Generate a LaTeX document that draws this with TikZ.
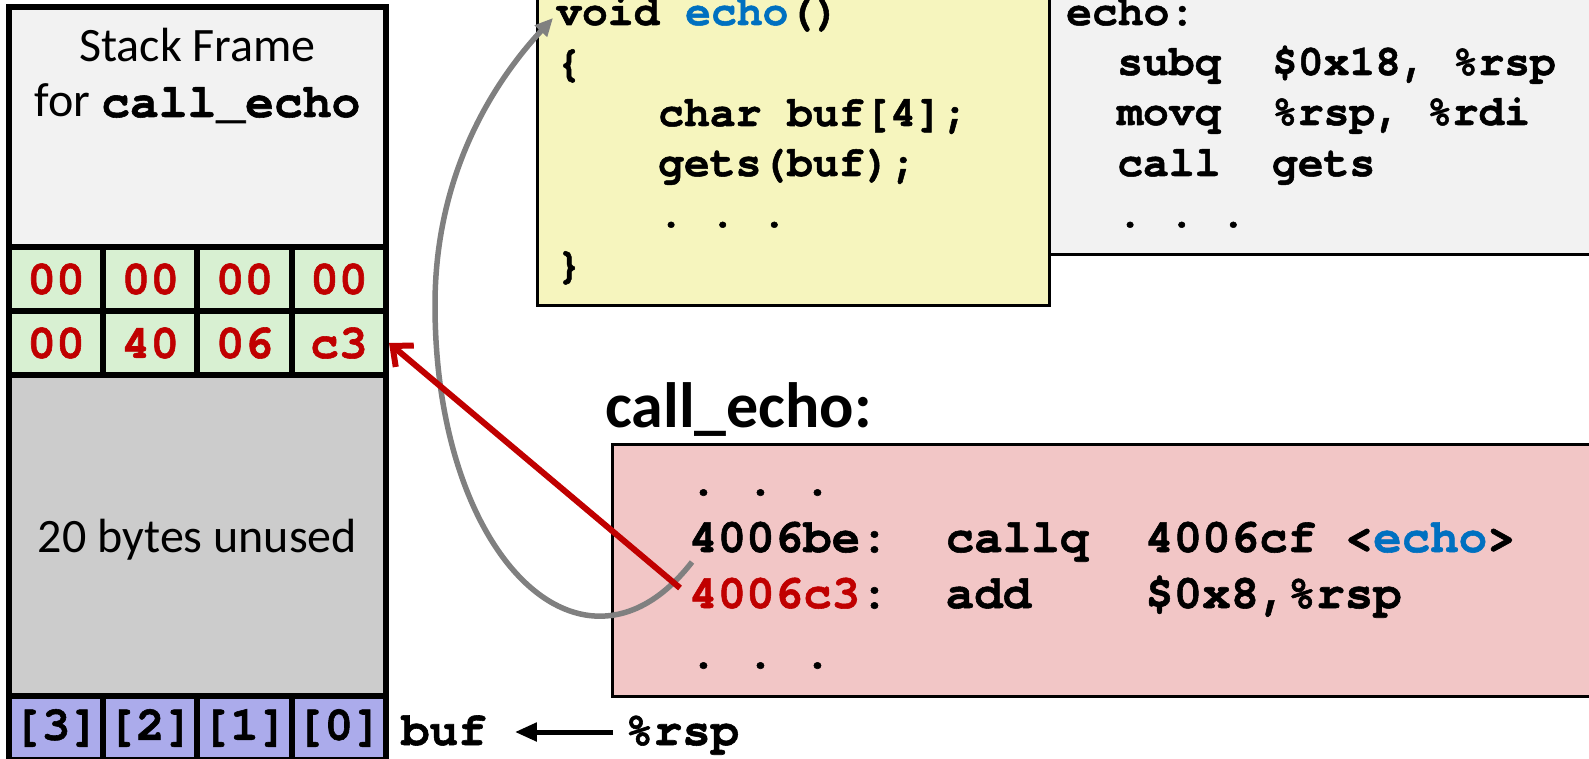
\documentclass[tikz,border=0pt]{standalone}
\usepackage{fontspec}
\setmainfont{Carlito}
\setmonofont{TeX Gyre Cursor}[BoldFeatures={FakeBold=1.2}]
\usetikzlibrary{arrows.meta}
\definecolor{frameGray}{RGB}{242,242,242}
\definecolor{cellGreen}{RGB}{216,240,210}
\definecolor{unusedGray}{RGB}{204,204,204}
\definecolor{cellPurple}{RGB}{171,171,235}
\definecolor{codeYellow}{RGB}{246,245,190}
\definecolor{asmGray}{RGB}{242,242,242}
\definecolor{asmPink}{RGB}{242,198,198}
\definecolor{darkRed}{RGB}{192,0,0}
\definecolor{linkBlue}{RGB}{0,112,192}
\definecolor{arrowGray}{RGB}{128,128,128}
\begin{document}
\begin{tikzpicture}[x=1pt,y=-1pt,
  stackline/.style={draw=black, line width=6pt},
  cellbox/.style={stackline, minimum width=94.25pt, minimum height=64pt, inner sep=0pt,
    font=\fontsize{48}{56}\selectfont\ttfamily\bfseries},
  greencell/.style={cellbox, fill=cellGreen, text=darkRed},
  purplecell/.style={cellbox, fill=cellPurple, text=black},
  sftext/.style={inner sep=0pt, anchor=base, font=\fontsize{48}{56}\selectfont},
  codeA/.style={inner sep=0pt, anchor=base west, font=\fontsize{43}{50}\selectfont\ttfamily\bfseries},
  codeB/.style={inner sep=0pt, anchor=base west, font=\fontsize{47.5}{56}\selectfont\ttfamily\bfseries},
  panel/.style={draw=black, line width=3pt},
  redarrow/.style={draw=darkRed, line width=6pt, -{Straight Barb[length=16pt,width=28pt]}},
  grayarrow/.style={draw=arrowGray, line width=5.5pt, -{Triangle[length=18pt,width=16pt]}},
  blackarrow/.style={draw=black, line width=5pt, -{Triangle[length=22pt,width=18pt]}}
]
\useasboundingbox (0,0) rectangle (1589,759);

% panels
\draw[panel, fill=asmGray] (1040,-10) rectangle (1610,255);
\draw[panel, fill=codeYellow] (537,-10) rectangle (1049,305);
\draw[panel, fill=asmPink] (612,444) rectangle (1610,696);

% stack
\draw[stackline, fill=frameGray] (9,7) rectangle (386,247);
\draw[stackline, fill=unusedGray] (9,375) rectangle (386,696);
\node[greencell] (r1c1) at (56.1,279) {00};
\node[greencell] (r1c2) at (150.4,279) {00};
\node[greencell] (r1c3) at (244.6,279) {00};
\node[greencell] (r1c4) at (338.9,279) {00};
\node[greencell] (r2c1) at (56.1,343) {00};
\node[greencell] (r2c2) at (150.4,343) {40};
\node[greencell] (r2c3) at (244.6,343) {06};
\node[greencell] (r2c4) at (338.9,343) {c3};
\node[purplecell] (b3) at (56.1,728) {[3]};
\node[purplecell] (b2) at (150.4,728) {[2]};
\node[purplecell] (b1) at (244.6,728) {[1]};
\node[purplecell] (b0) at (338.9,728) {[0]};

\node[sftext] (sftitle) at (197.5,62) {Stack Frame};
\node[sftext] (sffor) at (197.5,117) {for {\ttfamily\bfseries call\_echo}};
\node[sftext] (unused) at (197.5,552) {20 bytes unused};

% echo source
\node[codeA] (src1) at (556,25) {void \textcolor{linkBlue}{echo}()};
\node[codeA] (src2) at (556,76) {\{};
\node[codeA] (src3) at (658,126) {char buf[4];};
\node[codeA] (src4) at (658,176) {gets(buf);};
\node[codeA] (src5) at (658,227) {. . .};
\node[codeA] (src6) at (556,278) {\}};

% echo asm
\node[codeA] (asm1) at (1066,25) {echo:};
\node[codeA] (asm2) at (1117,75) {subq~~\$0x18, \%rsp};
\node[codeA] (asm3) at (1117,125) {movq~~\%rsp, \%rdi};
\node[codeA] (asm4) at (1117,176) {call~~gets};
\node[codeA] (asm5) at (1117,227) {. . .};

% call_echo
\node[inner sep=0pt, anchor=base west, font=\fontsize{64}{70}\selectfont\bfseries] (head) at (605,427) {call\_echo:};
\node[codeB] (ce1) at (689,495) {. . .};
\node[codeB] (ce2) at (689,552) {4006be:~~callq~~4006cf <\textcolor{linkBlue}{echo}>};
\node[codeB] (ce3) at (689,608) {\textcolor{darkRed}{4006c3}:~~add~~~~\$0x8,\%rsp};
\node[codeB] (ce4) at (689,668) {. . .};

% buf <- %rsp
\node[codeB] (buf) at (401,745) {buf};
\node[codeB] (rsp) at (625,745) {\%rsp};
\draw[blackarrow, shorten <=12pt, shorten >=28pt] (rsp.west |- 0,732) -- (buf.east |- 0,732);

% connectors
\coordinate (callsite) at (692,562);
\coordinate (leftmost) at (435,305);
\coordinate (voidentry) at (553,18);
\coordinate (retaddr) at (680,588);
\draw[grayarrow] (callsite) .. controls (585,700) and (435,560) .. (leftmost)
  .. controls (435,175) and (492,84) .. (voidentry);
\draw[redarrow] (retaddr) -- (r2c4.east);
\end{tikzpicture}
\end{document}
